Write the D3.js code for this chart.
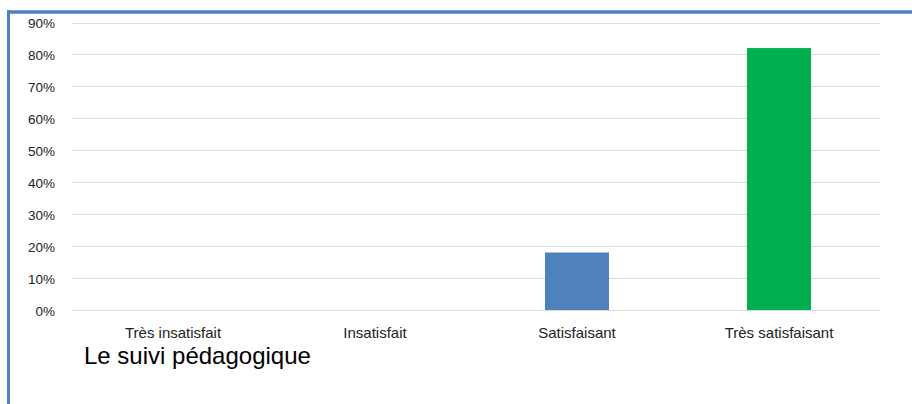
<!DOCTYPE html>
<html><head><meta charset="utf-8">
<script src="https://cdn.jsdelivr.net/npm/d3@7/dist/d3.min.js"></script>
<style>body{margin:0;background:#fff}svg{display:block}</style>
</head><body>
<script>
const categories = ["Très insatisfait", "Insatisfait", "Satisfaisant", "Très satisfaisant"];
const values = [0, 0, 0.18, 0.82];
const colors = ["#4f81bd", "#4f81bd", "#4f81bd", "#00b050"];
const yTicks = [0, 0.1, 0.2, 0.3, 0.4, 0.5, 0.6, 0.7, 0.8, 0.9];
const title = "Le suivi pédagogique";

const W = 912, H = 404;
const svg = d3.select("body").append("svg").attr("width", W).attr("height", H);
const font = "'Liberation Sans', Arial, sans-serif";

// frame lines
svg.append("line").attr("x1", 7).attr("x2", W).attr("y1", 12).attr("y2", 12)
  .attr("stroke", "#4f81bd").attr("stroke-width", 3.5);
svg.append("line").attr("x1", 8.5).attr("x2", 8.5).attr("y1", 10).attr("y2", H)
  .attr("stroke", "#4f81bd").attr("stroke-width", 3);

const x = d3.scaleBand().domain(categories).range([72, 880]).paddingInner(0.683).paddingOuter(0.3415);
const y = d3.scaleLinear().domain([0, 0.9]).range([310, 22.5]);

const g = svg.append("g");
g.selectAll(".grid").data(yTicks).join("line")
  .attr("x1", 72).attr("x2", 880)
  .attr("y1", d => Math.round(y(d)) + 0.5).attr("y2", d => Math.round(y(d)) + 0.5)
  .attr("stroke", "#d9d9d9").attr("stroke-width", 1);

const yAxis = d3.axisLeft(y).tickValues(yTicks).tickFormat(d3.format(".0%")).tickSize(0).tickPadding(0);
const ya = svg.append("g").attr("transform", "translate(55,1)").call(yAxis);
ya.select(".domain").remove();
ya.selectAll("text").attr("font-family", font).attr("font-size", 13.5).attr("fill", "#222");

g.selectAll(".bar").data(categories.map((c, i) => ({c, v: values[i], col: colors[i]})).filter(d => d.v > 0)).join("rect")
  .attr("x", d => x(d.c)).attr("width", x.bandwidth())
  .attr("y", d => y(d.v)).attr("height", d => y(0) - y(d.v))
  .attr("fill", d => d.col);

const xAxis = d3.axisBottom(x).tickSize(0).tickPadding(0);
const xa = svg.append("g").attr("transform", "translate(0,337.5)").call(xAxis);
xa.select(".domain").remove();
xa.selectAll("text").attr("font-family", font).attr("font-size", 15).attr("fill", "#222").attr("dy", 0);

svg.append("text").attr("x", 84).attr("y", 363.5).text(title)
  .attr("font-family", font).attr("font-size", 24).attr("fill", "#000");
</script>
</body></html>
